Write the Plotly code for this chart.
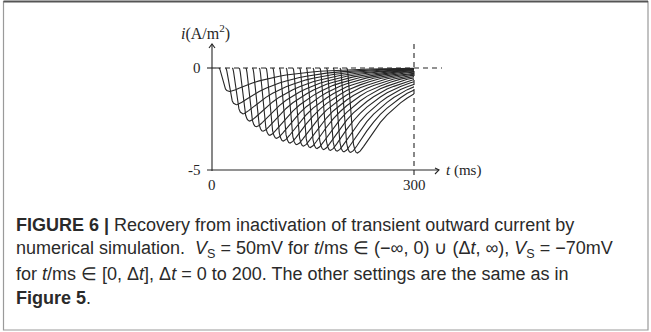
import plotly.graph_objects as go

# ---------------- data ----------------
# step times (ms) of the recovery protocol; the dt=0 trace is zero and hidden under the baseline
delta_t = [10, 20, 30, 40, 50, 60, 70, 80, 90, 100,
           110, 120, 130, 140, 150, 160, 170, 180, 190, 200]
# trough current (A/m^2) of each trace
peak_i = [-1.15, -1.80, -2.25, -2.60, -2.88, -3.10, -3.30, -3.45, -3.58, -3.68,
          -3.76, -3.83, -3.90, -3.95, -4.00, -4.04, -4.08, -4.11, -4.14, -4.17]
# common waveform after the step (ms after step, fraction of trough)
shape_s = [0, 1, 2, 3, 4, 5, 6, 8, 10, 12, 14, 16, 18, 20, 25, 30, 40, 50, 60, 70,
           80, 90, 100, 110, 120, 135, 150, 175, 200, 225, 250, 300]
shape_f = [0, 0.014, 0.078, 0.187, 0.317, 0.448, 0.572, 0.766, 0.891, 0.960, 0.992,
           1.0, 0.993, 0.978, 0.924, 0.864, 0.745, 0.640, 0.550, 0.475, 0.410, 0.352,
           0.300, 0.258, 0.225, 0.180, 0.140, 0.098, 0.065, 0.045, 0.030, 0.014]
x_ticks = [0, 300]
x_tick_text = ["0", "300"]
y_ticks = [0, -5]
y_tick_text = ["0", "-5"]

# ---------------- geometry ----------------
W, H = 651, 332
PX0, PXS = 212.0, 202.0 / 300.0     # pixel of t=0, px per ms
PY0, PYS = 68.0, 20.4               # pixel of i=0, px per A/m^2


def X(px):
    return (px - PX0) / PXS


def Y(py):
    return -(py - PY0) / PYS


fig = go.Figure()
ink = "#262626"
for dt, pk in zip(delta_t, peak_i):
    fig.add_trace(go.Scatter(
        x=[dt + s for s in shape_s], y=[pk * f for f in shape_f],
        mode="lines", line=dict(color=ink, width=1.1),
        xaxis="x2", yaxis="y", hoverinfo="skip", showlegend=False))

serif = "Liberation Serif"
shapes = []
ax = dict(color=ink, width=1.1)
# axes
shapes.append(dict(type="line", xref="x", yref="y", x0=0, x1=0, y0=Y(171), y1=Y(44), line=ax))
shapes.append(dict(type="path", xref="x", yref="y",
                   path=f"M {X(209)} {Y(48)} L 0 {Y(44)} L {X(215)} {Y(48)}", line=ax))
shapes.append(dict(type="line", xref="x", yref="y", x0=X(207), x1=X(439), y0=-5, y1=-5, line=ax))
shapes.append(dict(type="path", xref="x", yref="y",
                   path=f"M {X(435)} {Y(168)} L {X(439)} -5 L {X(435)} {Y(174)}", line=ax))
shapes.append(dict(type="line", xref="x", yref="y", x0=X(207), x1=X(216), y0=0, y1=0, line=ax))
# dashed guides
dash = dict(color=ink, width=1.1, dash="5px,4px")
shapes.append(dict(type="line", xref="x", yref="y", x0=X(216), x1=X(442), y0=0, y1=0, line=dash))
shapes.append(dict(type="line", xref="x", yref="y", x0=300, x1=300, y0=Y(175), y1=Y(43), line=dash))
# frame
shapes.append(dict(type="rect", xref="paper", yref="paper", x0=3.5 / W, x1=648 / W,
                   y0=1 - 330 / H, y1=1 - 1.5 / H, line=dict(color="#9a9a9a", width=1.2)))
shapes.append(dict(type="line", xref="paper", yref="paper", x0=3.5 / W, x1=648 / W,
                   y0=1 - 1.5 / H, y1=1 - 1.5 / H, line=dict(color="#555555", width=2)))

ann = []
tf = dict(family=serif, size=15, color=ink)
for v, t in zip(y_ticks, y_tick_text):
    ann.append(dict(x=X(203), y=v, xref="x", yref="y", text=t, showarrow=False,
                    xanchor="right", yanchor="middle", font=tf))
for v, t in zip(x_ticks, x_tick_text):
    ann.append(dict(x=v, y=Y(185), xref="x", yref="y", text=t, showarrow=False,
                    xanchor="center", yanchor="middle", font=tf))
ann.append(dict(x=X(444), y=-5, xref="x", yref="y", text="<i>t</i> (ms)", showarrow=False,
                xanchor="left", yanchor="middle", font=tf))
ann.append(dict(x=X(179), y=Y(32), xref="x", yref="y", text="<i>i</i>(A/m<sup>2</sup>)",
                showarrow=False, xanchor="left", yanchor="middle",
                font=dict(family=serif, size=16, color=ink)))

cap = [
    "<b>FIGURE 6 |</b> Recovery from inactivation of transient outward current by",
    "numerical simulation.  <i>V</i><sub>S</sub> = 50mV for <i>t</i>/ms ∈ (−∞, 0) ∪ (Δ<i>t</i>, ∞), "
    "<i>V</i><sub>S</sub> = −70mV",
    "for <i>t</i>/ms ∈ [0, Δ<i>t</i>], Δ<i>t</i> = 0 to 200. The other settings are the same as in",
    "<b>Figure 5</b>.",
]
cap_y = [225, 249.5, 274, 298]
for t, yy in zip(cap, cap_y):
    ann.append(dict(x=14 / W, y=1 - yy / H, xref="paper", yref="paper", text=t, showarrow=False,
                    xanchor="left", yanchor="middle",
                    font=dict(family="Liberation Sans", size=18, color="#2a2a2a")))

fig.update_layout(
    width=W, height=H, margin=dict(l=0, r=0, t=0, b=0),
    paper_bgcolor="white", plot_bgcolor="rgba(0,0,0,0)",
    xaxis=dict(domain=[0, 1], range=[X(0), X(W)], visible=False, fixedrange=True),
    xaxis2=dict(domain=[0, 414 / W], range=[X(0), 300], visible=False, anchor="y", fixedrange=True),
    yaxis=dict(domain=[0, 1], range=[Y(H), Y(0)], visible=False, anchor="x", fixedrange=True),
    shapes=shapes, annotations=ann, showlegend=False,
)
fig.write_html("out.html", config={"displayModeBar": False})
